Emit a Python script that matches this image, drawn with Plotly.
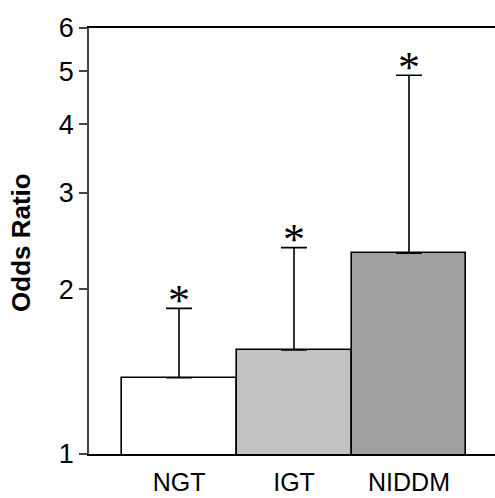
import math
import plotly.graph_objects as go

categories = ["NGT", "IGT", "NIDDM"]
odds_ratio = [1.378, 1.549, 2.326]
upper_ci = [1.845, 2.382, 4.92]
bar_colors = ["#ffffff", "#c2c2c2", "#a0a0a0"]
marks = ["*", "*", "*"]
y_ticks = [1, 2, 3, 4, 5, 6]

err_plus = [u - v for u, v in zip(upper_ci, odds_ratio)]
xs = list(range(len(categories)))

fig = go.Figure()
fig.add_trace(go.Bar(
    x=xs, y=odds_ratio, width=1.0,
    marker=dict(color=bar_colors, line=dict(color="black", width=1.6)),
    error_y=dict(type="data", symmetric=False, array=err_plus,
                 arrayminus=[0] * len(xs), color="black", thickness=1.6, width=13),
    showlegend=False,
))

annotations = []
for x, u, m in zip(xs, upper_ci, marks):
    annotations.append(dict(
        x=x, y=math.log10(u), xref="x", yref="y", text=m, showarrow=False,
        yanchor="middle", yshift=8,
        font=dict(family="Liberation Serif", size=44, color="black"),
    ))
annotations.append(dict(
    x=-0.1675, y=0.4977, xref="paper", yref="paper", text="<b>Odds Ratio</b>",
    showarrow=False, textangle=-90, xanchor="center", yanchor="middle",
    font=dict(family="Liberation Sans", size=26, color="black"),
))

fig.update_layout(
    width=495, height=498,
    margin=dict(l=89, r=0, t=28, b=44),
    plot_bgcolor="white", paper_bgcolor="white",
    font=dict(family="Liberation Sans", color="black"),
    bargap=0,
    annotations=annotations,
)
fig.update_xaxes(
    range=[-0.783, 2.748], tickvals=xs, ticktext=categories,
    showline=True, linecolor="black", linewidth=1.5, mirror=True,
    showgrid=False, zeroline=False, ticks="",
    tickfont=dict(size=25), ticklabelstandoff=5, automargin=False,
)
fig.update_yaxes(
    type="log", range=[0, 0.77815], tickvals=y_ticks,
    ticktext=[str(t) for t in y_ticks],
    showline=True, linecolor="#444444", linewidth=1.5, mirror=False,
    showgrid=False, zeroline=False, ticks="outside", ticklen=8,
    tickcolor="#444444", tickwidth=1.5,
    tickfont=dict(size=27), automargin=False,
)

fig.write_html("out.html")
